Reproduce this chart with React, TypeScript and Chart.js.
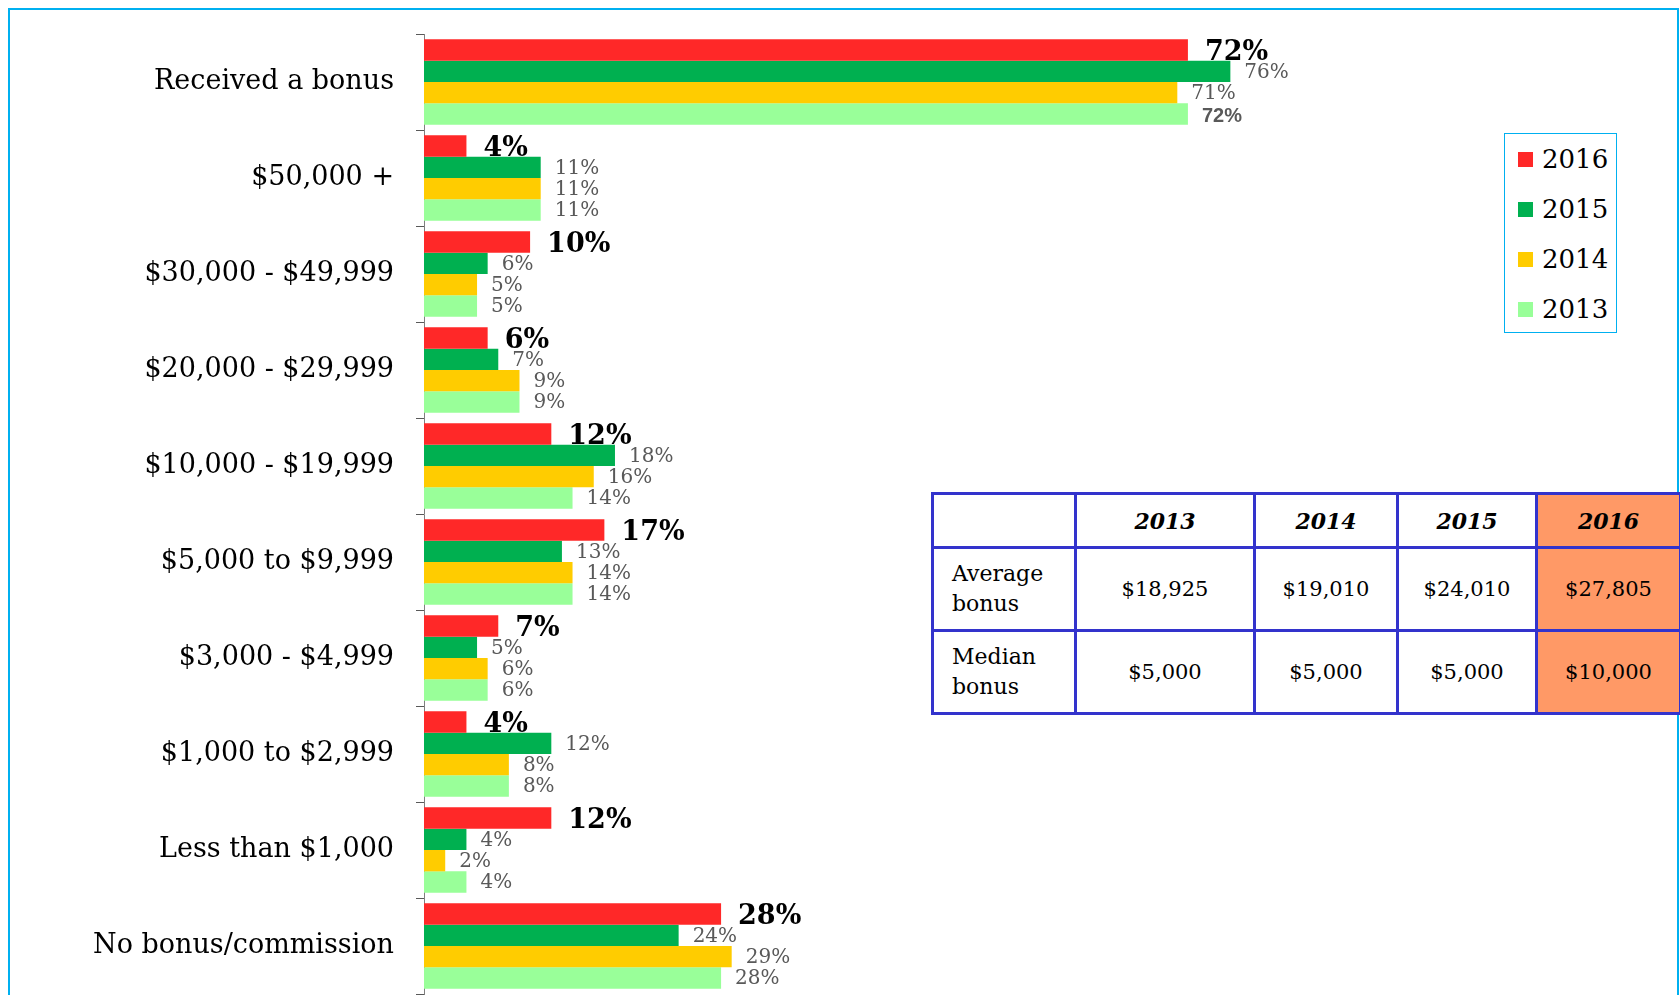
import React, { useEffect, useRef } from "react";
import { Chart, registerables } from "chart.js";

Chart.register(...registerables);

const categories = [
  "Received a bonus",
  "$50,000 +",
  "$30,000 - $49,999",
  "$20,000 - $29,999",
  "$10,000 - $19,999",
  "$5,000 to $9,999",
  "$3,000 - $4,999",
  "$1,000 to $2,999",
  "Less than $1,000",
  "No bonus/commission",
];
const years = ["2016", "2015", "2014", "2013"];
const values2016 = [72, 4, 10, 6, 12, 17, 7, 4, 12, 28];
const values2015 = [76, 11, 6, 7, 18, 13, 5, 12, 4, 24];
const values2014 = [71, 11, 5, 9, 16, 14, 6, 8, 2, 29];
const values2013 = [72, 11, 5, 9, 14, 14, 6, 8, 4, 28];
const seriesColors = ["#FF2828", "#00B050", "#FFCC00", "#99FF99"];

const tableYears = ["2013", "2014", "2015", "2016"];
const averageBonus = ["$18,925", "$19,010", "$24,010", "$27,805"];
const medianBonus = ["$5,000", "$5,000", "$5,000", "$10,000"];

const SERIF = "'DejaVu Serif', 'Liberation Serif', serif";
const SANS = "'Liberation Sans', Arial, sans-serif";

const labelPlugin = {
  id: "barLabels",
  afterDatasetsDraw(chart: any) {
    const ctx = chart.ctx;
    ctx.save();
    ctx.textBaseline = "middle";
    ctx.textAlign = "left";
    chart.data.datasets.forEach((ds: any, i: number) => {
      const meta = chart.getDatasetMeta(i);
      meta.data.forEach((bar: any, j: number) => {
        const v = ds.data[j];
        if (i === 0) {
          ctx.font = `bold 27px ${SERIF}`;
          ctx.fillStyle = "#000000";
          ctx.fillText(`${v}%`, bar.x + 17, bar.y + 3);
        } else if (i === 3 && j === 0) {
          ctx.font = `bold 20px ${SANS}`;
          ctx.fillStyle = "#595959";
          ctx.fillText(`${v}%`, bar.x + 14, bar.y + 2);
        } else {
          ctx.font = `20px ${SERIF}`;
          ctx.fillStyle = "#595959";
          ctx.fillText(`${v}%`, bar.x + 14, bar.y + 1);
        }
      });
    });
    ctx.restore();
  },
};

export default function App() {
  const canvasRef = useRef<HTMLCanvasElement | null>(null);

  useEffect(() => {
    const canvas = canvasRef.current;
    if (!canvas) return;
    const seriesValues = [values2016, values2015, values2014, values2013];
    const chart = new Chart(canvas, {
      type: "bar",
      data: {
        labels: categories,
        datasets: years.map((y, i) => ({
          label: y,
          data: seriesValues[i],
          backgroundColor: seriesColors[i],
          borderWidth: 0,
          categoryPercentage: 0.89,
          barPercentage: 1.0,
        })),
      },
      options: {
        indexAxis: "y",
        responsive: false,
        animation: false,
        devicePixelRatio: 1,
        layout: { padding: { top: 34, bottom: 1, left: 0, right: 195 } },
        plugins: {
          legend: { display: false },
          tooltip: { enabled: false },
          title: { display: false },
        },
        scales: {
          x: { min: 0, max: 100, display: false },
          y: {
            offset: true,
            grid: {
              display: true,
              offset: true,
              drawOnChartArea: false,
              drawTicks: true,
              tickLength: 8,
              color: "#595959",
              lineWidth: 1,
            },
            border: { display: true, color: "#7F7F7F", width: 1 },
            ticks: {
              color: "#000000",
              font: { family: SERIF, size: 27 },
              padding: 22,
            },
            afterFit(scale: any) {
              scale.width = 424;
              scale.paddingTop = 0;
              scale.paddingBottom = 0;
            },
          },
        },
      },
      plugins: [labelPlugin],
    } as any);
    return () => chart.destroy();
  }, []);

  const cellBorder = "3px solid #3333CC";
  const colWidths = [143, 179, 143, 139, 144];
  const bodyFont = { fontFamily: SERIF, fontSize: 21, color: "#000" };

  return (
    <div
      style={{
        position: "absolute",
        left: 0,
        top: 0,
        width: 1680,
        height: 995,
        overflow: "hidden",
        background: "#fff",
      }}
    >
      <div
        style={{
          position: "absolute",
          left: 8,
          top: 8,
          width: 1671,
          height: 1100,
          boxSizing: "border-box",
          border: "2px solid #00B0F0",
        }}
      />
      <canvas
        ref={canvasRef}
        width={1680}
        height={995}
        style={{ position: "absolute", left: 0, top: 0, width: 1680, height: 995 }}
      />
      <div
        style={{
          position: "absolute",
          left: 1504,
          top: 133,
          width: 113,
          height: 200,
          boxSizing: "border-box",
          border: "1px solid #00B0F0",
          background: "#fff",
        }}
      >
        {years.map((y, i) => (
          <div
            key={y}
            style={{
              position: "absolute",
              left: 13,
              top: 10 + i * 50,
              height: 30,
              display: "flex",
              alignItems: "center",
            }}
          >
            <div style={{ width: 15, height: 15, background: seriesColors[i], marginRight: 9 }} />
            <span style={{ fontFamily: SERIF, fontSize: 26, color: "#000", lineHeight: "30px" }}>{y}</span>
          </div>
        ))}
      </div>
      <table
        style={{
          position: "absolute",
          left: 931,
          top: 492,
          borderCollapse: "collapse",
          tableLayout: "fixed",
          width: 750,
          background: "#fff",
        }}
      >
        <colgroup>
          {colWidths.map((w, i) => (
            <col key={i} style={{ width: w }} />
          ))}
        </colgroup>
        <tbody>
          <tr style={{ height: 54 }}>
            <td style={{ border: cellBorder }} />
            {tableYears.map((y, i) => (
              <td
                key={y}
                style={{
                  border: cellBorder,
                  textAlign: "center",
                  fontFamily: SERIF,
                  fontSize: 22,
                  fontWeight: "bold",
                  fontStyle: "italic",
                  background: i === 3 ? "#FF9966" : "#fff",
                  padding: 0,
                }}
              >
                {y}
              </td>
            ))}
          </tr>
          <tr style={{ height: 83 }}>
            <td style={{ border: cellBorder, ...bodyFont, fontSize: 22, padding: "0 0 0 18px", lineHeight: "30px" }}>
              Average
              <br />
              bonus
            </td>
            {averageBonus.map((v, i) => (
              <td
                key={i}
                style={{
                  border: cellBorder,
                  textAlign: "center",
                  ...bodyFont,
                  background: i === 3 ? "#FF9966" : "#fff",
                  padding: 0,
                }}
              >
                {v}
              </td>
            ))}
          </tr>
          <tr style={{ height: 83 }}>
            <td style={{ border: cellBorder, ...bodyFont, fontSize: 22, padding: "0 0 0 18px", lineHeight: "30px" }}>
              Median
              <br />
              bonus
            </td>
            {medianBonus.map((v, i) => (
              <td
                key={i}
                style={{
                  border: cellBorder,
                  textAlign: "center",
                  ...bodyFont,
                  background: i === 3 ? "#FF9966" : "#fff",
                  padding: 0,
                }}
              >
                {v}
              </td>
            ))}
          </tr>
        </tbody>
      </table>
    </div>
  );
}
